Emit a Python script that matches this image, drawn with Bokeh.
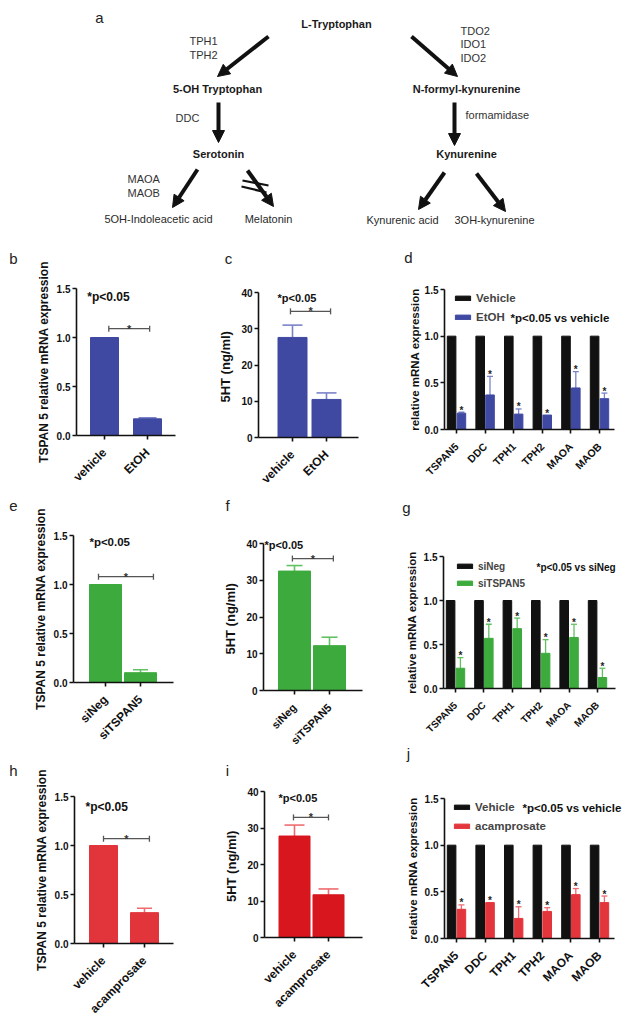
import math
from bokeh.plotting import figure
from bokeh.models import (Range1d, FixedTicker, PrintfTickFormatter, Label, Arrow,
                          NormalHead, TeeHead, Whisker, Legend, LegendItem, ColumnDataSource)
from bokeh.layouts import column, row
from bokeh.embed import file_html
from bokeh.resources import INLINE
from bokeh.core.properties import value

FONT = "Liberation Sans"

# ---------------- data ----------------
etoh_cats = ["vehicle", "EtOH"]
b_vals = [1.0, 0.17]
b_err = [1.0, 0.18]
c_vals = [27.6, 10.5]
c_err = [31.0, 12.3]

genes = ["TSPAN5", "DDC", "TPH1", "TPH2", "MAOA", "MAOB"]
ctrl_vals = [1.0, 1.0, 1.0, 1.0, 1.0, 1.0]
d_vals = [0.175, 0.37, 0.165, 0.155, 0.445, 0.33]
d_err = [0.185, 0.57, 0.22, 0.155, 0.62, 0.39]

si_cats = ["siNeg", "siTSPAN5"]
e_vals = [1.0, 0.10]
e_err = [1.0, 0.13]
f_vals = [32.5, 12.2]
f_err = [34.0, 14.5]
g_vals = [0.23, 0.57, 0.68, 0.40, 0.58, 0.125]
g_err = [0.35, 0.73, 0.80, 0.555, 0.73, 0.23]

aca_cats = ["vehicle", "acamprosate"]
h_vals = [1.0, 0.315]
h_err = [1.0, 0.36]
i_vals = [27.8, 11.7]
i_err = [30.8, 13.3]
j_vals = [0.313, 0.385, 0.215, 0.29, 0.47, 0.385]
j_err = [0.36, 0.385, 0.34, 0.33, 0.535, 0.455]

mrna_ticks = [0, 0.5, 1.0, 1.5]
ht_ticks = [0, 10, 20, 30, 40]

# pathway (panel a)
a_bold_text = ["L-Tryptophan", "5-OH Tryptophan", "N-formyl-kynurenine", "Serotonin", "Kynurenine"]
a_end_text = ["5OH-Indoleacetic acid", "Melatonin", "Kynurenic acid", "3OH-kynurenine"]
a_enz_text = ["TPH1", "TPH2", "TDO2", "IDO1", "IDO2", "DDC", "formamidase", "MAOA", "MAOB"]

BLUE, BLUE_E = "#3F49A2", "#7B83C8"
GREEN, GREEN_E = "#3DAA3D", "#62C262"
RED_H, RED_I, RED_J, RED_E = "#E2353B", "#D8161E", "#E3363C", "#EE6B70"
BLACK = "#111111"

# ---------------- panel a ----------------
pa = figure(width=633, height=245, x_range=Range1d(0, 633), y_range=Range1d(245, 0),
            output_backend="svg", toolbar_location=None, tools="",
            x_axis_location=None, y_axis_location=None, min_border=0)
pa.grid.visible = False
pa.outline_line_color = None

pa.text(x=[336, 217, 466, 218, 466], y=[23, 88, 88, 153, 153], text=a_bold_text,
        text_font=value(FONT), text_font_style="bold", text_font_size="11px",
        text_align="center", text_baseline="middle", text_color="#1a1a1a")
pa.text(x=[158, 268, 402, 494], y=[218, 218, 219, 219], text=a_end_text,
        text_font=value(FONT), text_font_size="11px",
        text_align="center", text_baseline="middle", text_color="#2a2a2a")
pa.text(x=[189, 189, 460, 460, 460, 175, 465, 127, 127],
        y=[40, 54, 30, 43, 57, 117, 114, 178, 192], text=a_enz_text,
        text_font=value(FONT), text_font_size="11px",
        text_align="left", text_baseline="middle", text_color="#333333")
pa.text(x=[99], y=[17], text=["a"], text_font=value(FONT), text_font_size="15px",
        text_align="center", text_baseline="middle", text_color="#222222")

arrow_src = ColumnDataSource(dict(
    x0=[268, 411, 218, 454, 197, 247, 444, 476],
    y0=[36, 36, 102, 102, 169, 170, 172, 173],
    x1=[217, 457, 218, 454, 172, 273, 418, 505],
    y1=[76, 76, 142, 145, 207, 206, 209, 211]))
pa.add_layout(Arrow(source=arrow_src, x_start="x0", y_start="y0", x_end="x1", y_end="y1",
                    line_width=4, line_color=BLACK,
                    end=NormalHead(size=12, fill_color=BLACK, line_color=BLACK)))
pa.segment(x0=[242, 241], y0=[180, 186], x1=[268, 266], y1=[185, 192],
           line_width=2.2, line_color=BLACK)


# ---------------- helpers ----------------
def style_axis(ax, label_size, standoff=2):
    ax.axis_line_color = BLACK
    ax.axis_line_width = 1.6
    ax.major_tick_line_color = BLACK
    ax.major_tick_line_width = 1.6
    ax.major_tick_out = 4
    ax.major_tick_in = 0
    ax.minor_tick_line_color = None
    ax.major_label_text_font = FONT
    ax.major_label_text_font_style = "bold"
    ax.major_label_text_font_size = label_size
    ax.major_label_text_color = BLACK
    ax.major_label_standoff = standoff
    ax.axis_label_text_font = FONT
    ax.axis_label_text_font_style = "bold"
    ax.axis_label_text_color = BLACK


def make_fig(cell, geo, yticks, yfmt, ylabel, ylab_size, ylab_standoff, cats, xlab_size,
             ytick_size="10px"):
    """cell = (left, top, width, height) on the page; geo = pixel layout of the axes:
    (y-axis x, x-axis right end, first tick x, tick spacing, y of zero, y of top tick, ymax)"""
    cl, ct, cw, ch = cell
    ax_px, right_px, t0, sp, y0_px, ytop_px, ymax = geo
    ppu = (y0_px - ytop_px) / ymax
    p = figure(width=cw, height=ch,
               x_range=Range1d(1 - (t0 - cl) / sp, 1 + (cl + cw - t0) / sp),
               y_range=Range1d(-(ct + ch - y0_px) / ppu, (y0_px - ct) / ppu),
               output_backend="svg", toolbar_location=None, tools="", min_border=0)
    p.grid.visible = False
    p.outline_line_color = None
    ax_val = 1 - (t0 - ax_px) / sp
    right_val = 1 + (right_px - t0) / sp
    xs = list(range(1, len(cats) + 1))
    p.xaxis.ticker = FixedTicker(ticks=xs)
    p.xaxis.major_label_overrides = {x: c for x, c in zip(xs, cats)}
    p.xaxis.major_label_orientation = math.pi / 4
    p.xaxis.fixed_location = 0
    p.xaxis.bounds = (ax_val, right_val)
    p.yaxis.ticker = FixedTicker(ticks=yticks)
    if yfmt:
        p.yaxis.formatter = PrintfTickFormatter(format=yfmt)
    p.yaxis.fixed_location = ax_val
    p.yaxis.bounds = (0, ymax)
    style_axis(p.xaxis[0], xlab_size, 11)
    style_axis(p.yaxis[0], ytick_size, 2)
    p.yaxis.axis_label = ylabel
    p.yaxis.axis_label_text_font_size = ylab_size
    p.yaxis.axis_label_standoff = ylab_standoff
    return p, xs, sp


def screen_label(p, cell, sx, sy, text, size, bold=False, align="center", color="#222222"):
    cl, ct, cw, ch = cell
    p.add_layout(Label(x=sx - cl, y=ct + ch - sy, x_units="screen", y_units="screen", text=text,
                       text_font=FONT, text_font_size=size,
                       text_font_style="bold" if bold else "normal",
                       text_align=align, text_baseline="middle", text_color=color))


def two_bar(cell, geo, cats, vals, errs, color, ecolor, bw_px, cap, yticks, yfmt,
            ylabel, ylab_size, ylab_standoff, xlab_size, sig, ptext, psize, letter, lpos):
    p, xs, sp = make_fig(cell, geo, yticks, yfmt, ylabel, ylab_size, ylab_standoff,
                         cats, xlab_size)
    p.vbar(x=xs, top=vals, width=bw_px / sp, bottom=0, fill_color=color, line_color=color,
           line_width=1)
    ex = [x for x, v, e in zip(xs, vals, errs) if e > v]
    elo = [v for v, e in zip(vals, errs) if e > v]
    ehi = [e for v, e in zip(vals, errs) if e > v]
    p.add_layout(Whisker(source=ColumnDataSource(dict(base=ex, lower=elo, upper=ehi)),
                         base="base", lower="lower", upper="upper", dimension="height",
                         line_color=ecolor, line_width=1.6, lower_head=None,
                         upper_head=TeeHead(size=cap, line_color=ecolor, line_width=1.6)))
    x1, x2, ys = sig
    p.add_layout(Whisker(source=ColumnDataSource(dict(base=[ys], lower=[x1], upper=[x2])),
                         base="base", lower="lower", upper="upper", dimension="width",
                         line_color="#555555", line_width=1.3,
                         lower_head=TeeHead(size=6, line_color="#555555", line_width=1.3),
                         upper_head=TeeHead(size=6, line_color="#555555", line_width=1.3)))
    p.add_layout(Label(x=(x1 + x2) / 2, y=ys, text="*", text_font=FONT, text_font_size="11px",
                       text_font_style="bold", text_align="center", text_baseline="alphabetic",
                       y_offset=0, text_color="#333333"))
    p.add_layout(Label(x=ptext[0], y=ptext[1], text="*p<0.05", text_font=FONT,
                       text_font_size=psize, text_font_style="bold", text_align="left",
                       text_baseline="middle", text_color=BLACK))
    screen_label(p, cell, lpos[0], lpos[1], letter, "15px")
    return p


def grouped(cell, geo, trt_vals, trt_err, color, ecolor, ylab_standoff, xlab_size,
            ctrl_label, trt_label, leg_size, leg_h, leg_glyph, note, note_pos, note_size,
            letter, lpos):
    p, xs, sp = make_fig(cell, geo, mrna_ticks, "%.1f", "relative mRNA expression",
                         "11.5px", ylab_standoff, genes, xlab_size)
    off, bw = 4.9 / sp, 8.6 / sp
    r1 = p.vbar(x=[x - off for x in xs], top=ctrl_vals, width=bw, fill_color=BLACK,
                line_color=BLACK)
    r2 = p.vbar(x=[x + off for x in xs], top=trt_vals, width=bw, fill_color=color,
                line_color=color)
    ex = [x + off for x, v, e in zip(xs, trt_vals, trt_err) if e > v]
    elo = [v for v, e in zip(trt_vals, trt_err) if e > v]
    ehi = [e for v, e in zip(trt_vals, trt_err) if e > v]
    p.add_layout(Whisker(source=ColumnDataSource(dict(base=ex, lower=elo, upper=ehi)),
                         base="base", lower="lower", upper="upper", dimension="height",
                         line_color=ecolor, line_width=1.3, lower_head=None,
                         upper_head=TeeHead(size=6, line_color=ecolor, line_width=1.3)))
    p.text(x=[x + off for x in xs], y=trt_err, text=["*"] * len(xs),
           text_font=value(FONT), text_font_size="10px", text_font_style="bold",
           text_align="center", text_baseline="alphabetic", y_offset=-2,
           text_color="#222222")
    cl, ct, cw, ch = cell
    gx, gtop = leg_glyph
    leg_height = 2 * leg_h + 5
    leg = Legend(items=[LegendItem(label=ctrl_label, renderers=[r1]),
                        LegendItem(label=trt_label, renderers=[r2])],
                 location=(gx - cl, ct + ch - (gtop + leg_height)),
                 orientation="vertical", glyph_width=19, glyph_height=6,
                 label_text_font=FONT, label_text_font_style="bold",
                 label_text_font_size=leg_size, label_height=leg_h, label_standoff=4,
                 spacing=5, padding=0, margin=0, border_line_color=None,
                 background_fill_alpha=0)
    p.add_layout(leg)
    screen_label(p, cell, note_pos[0], note_pos[1], note, note_size, bold=True, align="left",
                 color=BLACK)
    screen_label(p, cell, lpos[0], lpos[1], letter, "15px")
    return p


# page cells: (left, top, width, height)
CB, CC, CD = (0, 245, 215, 245), (215, 245, 175, 245), (390, 245, 243, 245)
CE, CF, CG = (0, 490, 215, 256), (215, 490, 175, 265), (390, 490, 243, 256)
CH, CI, CJ = (0, 746, 215, 271), (215, 755, 175, 262), (390, 746, 243, 271)

pb = two_bar(CB, (76, 175, 104, 43, 435, 288, 1.5), etoh_cats, b_vals, b_err, BLUE, BLUE_E,
             28, 18, mrna_ticks, "%.1f", "TSPAN 5 relative mRNA expression", "12px", 3, "12px",
             (1.1, 2.05, 1.09), (0.6, 1.41), "12px", "b", (13, 258))
pc = two_bar(CC, (258, 358, 292, 34, 437, 292, 40), etoh_cats, c_vals, c_err, BLUE, BLUE_E,
             29, 20, ht_ticks, None, "5HT  (ng/ml)", "13px", 5, "12px",
             (0.94, 2.12, 34.8), (0.56, 38.6), "11px", "c", (228, 258))
pd_ = grouped(CD, (444, 614, 456, 28.6, 429, 289, 1.5), d_vals, d_err, BLUE, BLUE_E, 1,
              "10.5px", "Vehicle", "EtOH", "11.5px", 14, (453, 291),
              "*p<0.05 vs vehicle", (510, 317), "11.5px", "d", (408, 257))

pe = two_bar(CE, (73, 173, 105, 35, 682, 535, 1.5), si_cats, e_vals, e_err, GREEN, GREEN_E,
             32, 15, mrna_ticks, "%.1f", "TSPAN 5 relative mRNA expression", "12px", 3, "12px",
             (0.8, 2.37, 1.08), (0.54, 1.43), "11.5px", "e", (13, 505))
pf = two_bar(CF, (263, 362, 294, 35, 690, 543, 40), si_cats, f_vals, f_err, GREEN, GREEN_E,
             32, 16, ht_ticks, None, "5HT  (ng/ml)", "13px", 5, "11px",
             (0.94, 2.11, 35.9), (0.14, 39.5), "11px", "f", (227, 505))
pg = grouped(CG, (443, 615, 455, 28.4, 688, 556, 1.5), g_vals, g_err, GREEN, GREEN_E, 3,
             "10px", "siNeg", "siTSPAN5", "10px", 12, (455, 560),
             "*p<0.05 vs siNeg", (536, 567), "10px", "g", (406, 507))

ph = two_bar(CH, (74, 173, 103, 41, 943, 796, 1.5), aca_cats, h_vals, h_err, RED_H, RED_E,
             28, 15, mrna_ticks, "%.1f", "TSPAN 5 relative mRNA expression", "12px", 3, "12px",
             (1.0, 2.12, 1.07), (0.56, 1.39), "12px", "h", (13, 770))
pi_ = two_bar(CI, (264, 362, 294, 34, 937, 791, 40), aca_cats, i_vals, i_err, RED_I, RED_E,
              31, 20, ht_ticks, None, "5HT  (ng/ml)", "13px", 5, "12px",
              (0.97, 2.0, 32.9), (0.53, 38.1), "11px", "i", (227, 770))
pj = grouped(CJ, (444, 614, 456, 28.6, 938, 798, 1.5), j_vals, j_err, RED_J, RED_E, 3,
             "12px", "Vehicle", "acamprosate", "11.5px", 14, (452, 800),
             "*p<0.05 vs vehicle", (522, 807), "11.5px", "j", (408, 753))

layout = column(pa, row(column(pb, pe, ph), column(pc, pf, pi_), column(pd_, pg, pj)))

open("out.html", "w").write(file_html(layout, INLINE))
